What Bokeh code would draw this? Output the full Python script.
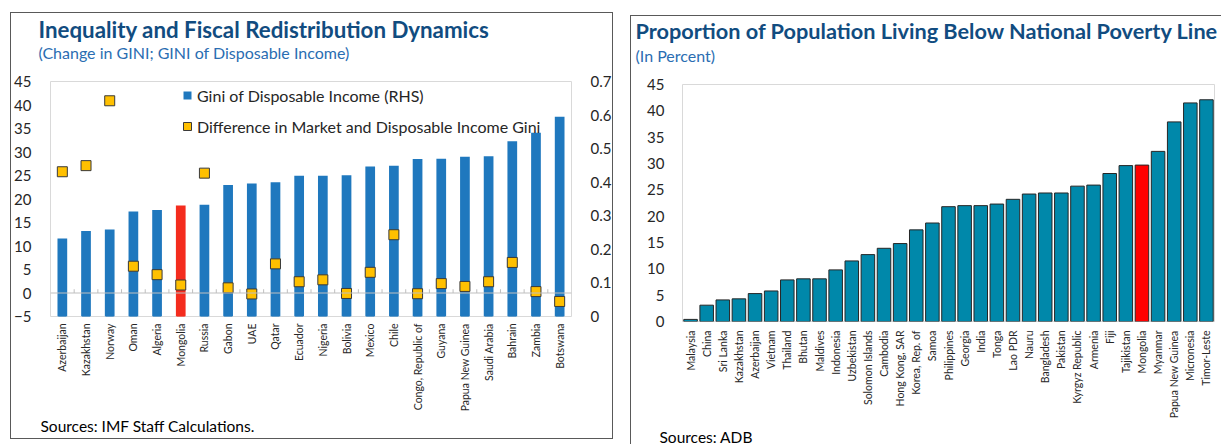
from math import pi
from bokeh.plotting import figure
from bokeh.models import (Range1d, LinearAxis, FixedTicker, Legend, LegendItem, Title,
                          Span, ColumnDataSource, NumeralTickFormatter)
from bokeh.layouts import row
from bokeh.embed import file_html
from bokeh.resources import INLINE

# ---------------- data: left chart ----------------
gini_countries = ["Azerbaijan", "Kazakhstan", "Norway", "Oman", "Algeria", "Mongolia", "Russia",
                  "Gabon", "UAE", "Qatar", "Ecuador", "Nigeria", "Bolivia", "Mexico", "Chile",
                  "Congo, Republic of", "Guyana", "Papua New Guinea", "Saudi Arabia", "Bahrain",
                  "Zambia", "Botswana"]
gini_disposable = [0.232, 0.255, 0.259, 0.313, 0.317, 0.331, 0.333, 0.392, 0.396, 0.400, 0.419,
                   0.419, 0.421, 0.447, 0.449, 0.469, 0.470, 0.476, 0.477, 0.522, 0.547, 0.595]
gini_difference = [25.8, 27.1, 40.9, 5.7, 3.9, 1.7, 25.5, 1.1, -0.2, 6.2, 2.4, 2.8, -0.1, 4.4,
                   12.4, -0.15, 2.0, 1.4, 2.4, 6.5, 0.3, -1.8]
left_ticks = [-5, 0, 5, 10, 15, 20, 25, 30, 35, 40, 45]
right_ticks = [0, 0.1, 0.2, 0.3, 0.4, 0.5, 0.6, 0.7]

# ---------------- data: right chart ----------------
poverty_countries = ["Malaysia", "China", "Sri Lanka", "Kazakhstan", "Azerbaijan", "Vietnam",
                     "Thailand", "Bhutan", "Maldives", "Indonesia", "Uzbekistan", "Solomon Islands",
                     "Cambodia", "Hong Kong, SAR", "Korea, Rep. of", "Samoa", "Philippines",
                     "Georgia", "India", "Tonga", "Lao PDR", "Nauru", "Bangladesh", "Pakistan",
                     "Kyrgyz Republic", "Armenia", "Fiji", "Tajikistan", "Mongolia", "Myanmar",
                     "Papua New Guinea", "Micronesia", "Timor-Leste"]
poverty_rate = [0.4, 3.1, 4.1, 4.3, 5.3, 5.8, 7.9, 8.1, 8.1, 9.8, 11.5, 12.7, 13.9, 14.8, 17.4,
                18.7, 21.8, 22.0, 22.0, 22.3, 23.2, 24.2, 24.4, 24.4, 25.7, 25.9, 28.1, 29.6,
                29.7, 32.3, 37.9, 41.5, 42.1]
poverty_ticks = [0, 5, 10, 15, 20, 25, 30, 35, 40, 45]
highlight = "Mongolia"

# ---------------- styles ----------------
FONT = "Lato"
TITLE_COLOR = "#114C80"
SUB_COLOR = "#2A6DB2"
TEXT_COLOR = "#262626"
BLUE = "#1F78BE"
RED_L = "#F42C1E"
TEAL = "#0088AA"
RED_R = "#FF0000"
YELLOW = "#FFC000"
FRAME = "#D9D9D9"
BORDER = "1px solid #595959"


def style_axis(ax, size, standoff):
    ax.axis_line_color = None
    ax.major_tick_line_color = None
    ax.minor_tick_line_color = None
    ax.major_tick_out = 0
    ax.major_tick_in = 0
    ax.major_label_text_font = FONT
    ax.major_label_text_font_size = size
    ax.major_label_text_color = TEXT_COLOR
    ax.major_label_standoff = standoff


def add_title(p, text, side, size, color, offset, valign="bottom", bold=False):
    # panels added later sit further from the frame
    p.add_layout(Title(text=text, align="left", offset=offset, standoff=0,
                       vertical_align=valign,
                       text_font=FONT, text_font_size=size, text_color=color,
                       text_font_style="bold" if bold else "normal"), side)


# ======================= LEFT =======================
n1 = len(gini_countries)
src1 = ColumnDataSource(dict(
    x=list(range(n1)),
    gini=gini_disposable,
    diff=gini_difference,
    base=[0] * n1,
    color=[RED_L if c == highlight else BLUE for c in gini_countries],
))

p1 = figure(width=603, height=427, x_range=Range1d(-0.5, n1 - 0.5), y_range=Range1d(-5, 45),
            output_backend="svg", toolbar_location=None,
            min_border_left=37, min_border_right=37, min_border_top=68, min_border_bottom=122,
            margin=(12, 0, 0, 10), styles={"border": BORDER})
p1.extra_y_ranges = {"rhs": Range1d(0, 0.7)}
p1.xgrid.visible = False
p1.ygrid.visible = False
p1.outline_line_color = FRAME
p1.outline_line_width = 1

# legend swatch for the bars: square markers hidden under the bars' base
swatch = p1.scatter(x="x", y="base", y_range_name="rhs", marker="square", size=8,
                    fill_color="color", line_color=None, source=src1)
p1.vbar(x="x", top="gini", bottom=0, width=0.41, fill_color="color", line_color=None,
        y_range_name="rhs", source=src1)
p1.add_layout(Span(location=0, dimension="width", line_color="#BFBFBF", line_width=1))
bounds = [i + 0.5 for i in range(n1 - 1)]
p1.segment(x0=bounds, y0=[0] * len(bounds), x1=bounds, y1=[0.8] * len(bounds),
           line_color="#BFBFBF", line_width=1)
marks1 = p1.scatter(x="x", y="diff", marker="square", size=10, fill_color=YELLOW,
                    line_color="#3A3A3A", line_width=1, source=src1)

xa = p1.xaxis[0]
xa.ticker = FixedTicker(ticks=list(range(n1)))
xa.major_label_overrides = {i: c for i, c in enumerate(gini_countries)}
xa.major_label_orientation = pi / 2
style_axis(xa, "10.5px", 7)

ya = p1.yaxis[0]
ya.ticker = FixedTicker(ticks=left_ticks)
style_axis(ya, "15px", 19)

ra = LinearAxis(y_range_name="rhs", ticker=FixedTicker(ticks=right_ticks),
                formatter=NumeralTickFormatter(format="0.[0]"))
style_axis(ra, "15px", 19)
p1.add_layout(ra, "right")

leg1 = Legend(items=[LegendItem(label="Gini of Disposable Income (RHS)", renderers=[swatch],
                                index=0),
                     LegendItem(label="Difference in Market and Disposable Income Gini",
                                renderers=[marks1], index=0)],
              location=(127, 180), orientation="vertical",
              glyph_width=20, glyph_height=20, label_height=20, label_standoff=0, spacing=11,
              padding=0, margin=0, border_line_color=None, background_fill_alpha=0,
              label_text_font=FONT, label_text_font_size="16px", label_text_color=TEXT_COLOR)
p1.add_layout(leg1, "center")

# titles (above): spacer, subtitle, title
add_title(p1, " ", "above", "13px", "#FFFFFF", 0)
add_title(p1, "(Change in GINI; GINI of Disposable Income)", "above", "16px", SUB_COLOR, -12,
          valign="top")
add_title(p1, "Inequality and Fiscal Redistribution Dynamics", "above", "22.3px", TITLE_COLOR,
          -12, bold=True)
# source note below the axis
add_title(p1, "Sources: IMF Staff Calculations.", "below", "15.5px", "#000000", -10)

# ======================= RIGHT =======================
n2 = len(poverty_countries)
src2 = ColumnDataSource(dict(
    x=list(range(n2)),
    rate=poverty_rate,
    color=[RED_R if c == highlight else TEAL for c in poverty_countries],
))

p2 = figure(width=591, height=429, x_range=Range1d(-0.5, n2 - 0.5), y_range=Range1d(0, 45),
            output_backend="svg", toolbar_location=None,
            min_border_left=51, min_border_right=8, min_border_top=68, min_border_bottom=123,
            margin=(15, 0, 0, 17),
            styles={"border-top": BORDER, "border-left": BORDER})
p2.xgrid.visible = False
p2.ygrid.visible = False
p2.outline_line_color = FRAME
p2.outline_line_width = 1

p2.vbar(x="x", top="rate", bottom=0, width=0.84, fill_color="color", line_color="#262626",
        line_width=1, source=src2)

xb = p2.xaxis[0]
xb.ticker = FixedTicker(ticks=list(range(n2)))
xb.major_label_overrides = {i: c for i, c in enumerate(poverty_countries)}
xb.major_label_orientation = pi / 2
style_axis(xb, "10.5px", 9)

yb = p2.yaxis[0]
yb.ticker = FixedTicker(ticks=poverty_ticks)
style_axis(yb, "15px", 18)

add_title(p2, " ", "above", "13px", "#FFFFFF", 0)
add_title(p2, "(In Percent)", "above", "16px", SUB_COLOR, -47, valign="top")
add_title(p2, "Proportion of Population Living Below National Poverty Line", "above", "21.7px",
          TITLE_COLOR, -47, valign="top", bold=True)
add_title(p2, " ", "below", "1.5px", "#FFFFFF", 0)
add_title(p2, "Sources: ADB", "below", "15.5px", "#000000", -23)

layout = row(p1, p2)
open("out.html", "w").write(file_html(layout, INLINE))
